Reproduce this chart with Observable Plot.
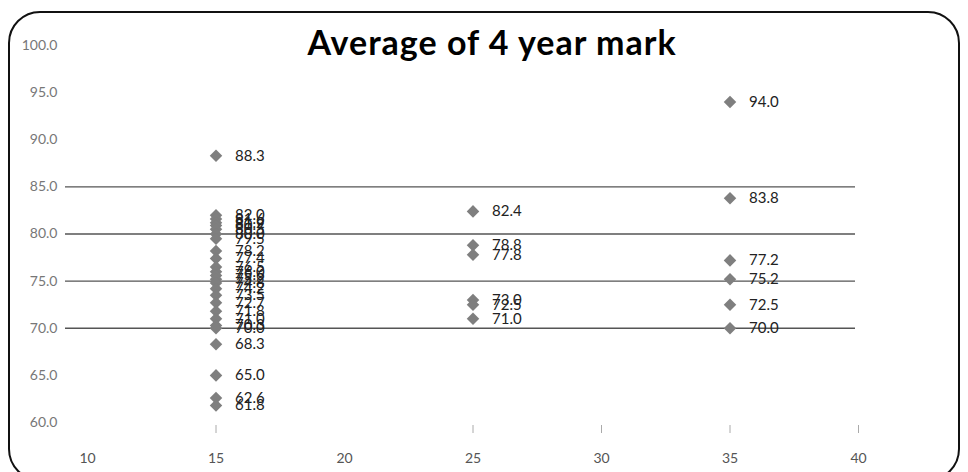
<!DOCTYPE html>
<html>
<head>
<meta charset="utf-8">
<script src="https://cdn.jsdelivr.net/npm/d3@7"></script>
<script src="https://cdn.jsdelivr.net/npm/@observablehq/plot@0.6"></script>
<style>
  html, body { margin: 0; padding: 0; background: #fff; }
  #wrap { position: relative; width: 968px; height: 472px; overflow: hidden; font-family: Lato, "Open Sans", sans-serif; }
  #frame { position: absolute; left: 8px; top: 11px; width: 952px; height: 470px; border: 2px solid #111; border-radius: 32px; box-sizing: border-box; pointer-events: none; }
  #title { position: absolute; left: 0; width: 984px; top: 21px; text-align: center; font: bold 34px Lato, "Open Sans", sans-serif; letter-spacing: 1px; color: #000; }
  #chart { position: absolute; left: 0; top: 0; }
</style>
</head>
<body>
<div id="wrap">
  <div id="chart"></div>
  <div id="title">Average of 4 year mark</div>
  <div id="frame"></div>
</div>
<script>
// Average 4-year marks grouped by x value
const group15 = [88.3, 82.0, 81.6, 81.2, 80.9, 80.5, 80.0, 79.5, 78.2, 77.4, 76.5, 76.0, 75.6, 75.2, 74.8, 74.2, 73.5, 72.7, 71.8, 71.0, 70.3, 70.0, 68.3, 65.0, 62.6, 61.8];
const group25 = [82.4, 78.8, 77.8, 73.0, 72.5, 71.0];
const group35 = [94.0, 83.8, 77.2, 75.2, 72.5, 70.0];

const xTicks = [10, 15, 20, 25, 30, 35, 40];
const xTickMarks = [15, 25, 30, 35, 40];
const yTicks = [60, 65, 70, 75, 80, 85, 90, 95, 100];
const gridValues = [70, 75, 80, 85];

const points = [
  ...group15.map(v => ({x: 15, y: v})),
  ...group25.map(v => ({x: 25, y: v})),
  ...group35.map(v => ({x: 35, y: v}))
];

const chart = Plot.plot({
  width: 968,
  height: 472,
  marginLeft: 87,
  marginRight: 110,
  marginTop: 45,
  marginBottom: 50,
  style: {fontFamily: "Lato, 'Open Sans', sans-serif", background: "transparent"},
  x: {domain: [10, 40]},
  y: {domain: [60, 100]},
  marks: [
    Plot.ruleY(gridValues, {stroke: "#555", strokeWidth: 1.3, insetLeft: -22, insetRight: 3}),
    Plot.axisY({ticks: yTicks, tickSize: 0, tickPadding: 30, tickFormat: d => d.toFixed(1), fontSize: 14, fill: "#777", label: null}),
    Plot.axisX({ticks: xTickMarks, tickSize: 8, tickPadding: 0, text: null, stroke: "#aaa", label: null, dy: 3}),
    Plot.axisX({ticks: xTicks, tickSize: 0, tickPadding: 31, fontSize: 14, fill: "#555", label: null}),
    Plot.dot(points, {x: "x", y: "y", symbol: "square", rotate: 45, r: 5, fill: "#7f7f7f", stroke: "none"}),
    Plot.text(points, {x: "x", y: "y", text: d => d.y.toFixed(1), textAnchor: "start", dx: 19, fontSize: 15, fill: "#222"})
  ]
});
document.getElementById("chart").append(chart);
</script>
</body>
</html>
